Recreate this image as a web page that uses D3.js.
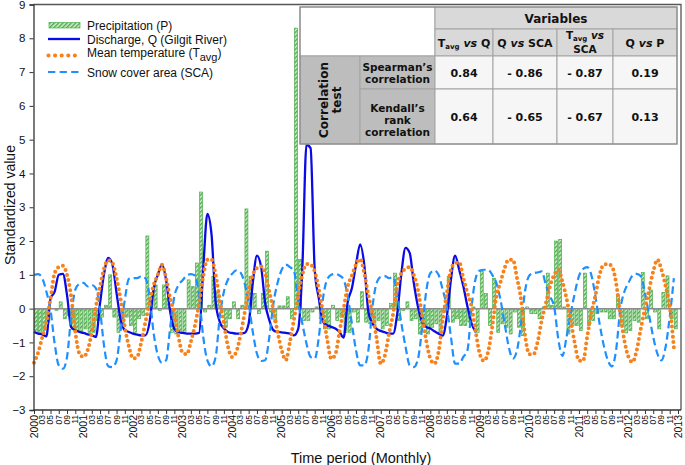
<!DOCTYPE html>
<html><head><meta charset="utf-8">
<script src="https://cdn.jsdelivr.net/npm/d3@7"></script>
<style>body{margin:0;background:#fff}svg{display:block}</style>
</head><body><svg id="c" width="685" height="465"></svg>
<script>
// ---- data (monthly, Jan 2000 .. Dec 2012) ----
const precip = [
 -0.7,-0.7,-0.65,-0.4,0.0,-0.05,0.2,-0.3,-0.2,-0.6,-0.65,-0.7,
 -0.6,-0.7,-0.7,-0.35,-0.25,0.1,1.0,-0.25,-0.7,-0.45,-0.25,-0.5,
 -0.7,-0.3,-0.2,2.15,0.35,0.7,-0.05,0.7,0.3,-0.7,-0.75,-0.7,
 -0.7,0.85,0.65,1.35,3.45,-0.1,0.1,0.95,0.5,-0.05,-0.55,-0.3,
 0.2,-0.3,0.1,2.95,0.95,0.45,-0.15,0.45,1.7,-0.1,-0.4,0.08,
 0.08,0.35,-0.3,8.3,1.45,-0.35,-0.35,-0.1,0.05,-0.3,-0.6,-0.6,
 0.1,-0.35,-0.25,-0.7,-0.7,-0.1,-0.4,0.5,-0.4,-0.45,-0.5,-0.35,
 -0.6,-0.5,0.15,1.05,-0.35,-0.05,0.2,-0.35,-0.3,-0.75,-0.55,-0.75,
 -0.55,-0.45,-0.7,-0.1,0.95,-0.4,-0.3,-0.5,-0.5,-0.4,0.05,-0.7,
 1.1,0.45,-0.5,0.9,-0.7,-0.45,-0.55,-0.75,-0.1,-0.55,-0.8,0.05,
 -0.15,-0.15,-0.3,0.05,1.05,0.1,2.0,2.05,0.05,-0.75,-0.5,-0.5,
 -0.65,1.05,-0.5,-0.35,-0.15,-0.1,-0.1,-0.3,-0.3,0.4,-0.5,-0.72,
 -0.65,-0.35,-0.4,1.07,-0.3,0.55,-0.1,-0.6,0.48,0.97,-0.3,-0.6
];
const discharge = [
 -0.69,-0.74,-0.76,-0.82,0.3,0.5,1.0,1.03,0.4,-0.55,-0.64,-0.69,
 -0.72,-0.76,-0.79,-0.84,0.16,1.05,1.5,1.3,0.46,-0.34,-0.64,-0.69,
 -0.74,-0.77,-0.79,-0.79,-0.4,0.6,1.0,1.3,0.85,-0.1,-0.6,-0.7,
 -0.72,-0.74,-0.74,-0.74,-0.72,1.2,2.8,2.2,0.2,-0.39,-0.59,-0.69,
 -0.72,-0.74,-0.74,-0.72,-0.44,0.76,1.57,1.25,0.16,-0.34,-0.64,-0.69,
 -0.7,-0.72,-0.74,-0.79,-0.6,1.2,4.85,4.75,1.15,0.3,-0.39,-0.49,
 -0.54,-0.59,-0.69,-0.86,0.2,0.6,1.3,1.9,1.3,-0.1,-0.44,-0.6,
 -0.66,-0.7,-0.74,-0.74,-0.14,1.05,1.8,1.65,0.76,0.06,-0.39,-0.54,
 -0.59,-0.67,-0.74,-0.8,-0.24,0.86,1.57,1.15,0.66,0.06,-0.44,-0.7
];
const tavg = [
 -1.6,-1.3,-0.85,-0.4,0.3,1.05,1.23,1.27,1.0,0.36,-0.69,-1.33,
 -1.43,-1.23,-0.69,0.06,0.66,1.2,1.43,1.35,0.9,0.26,-0.54,-1.13,
 -1.48,-1.43,-0.98,-0.39,0.2,0.7,1.0,1.3,0.9,0.3,-0.14,-0.84,
 -1.31,-1.35,-0.98,-0.49,0.16,0.96,1.45,1.45,1.0,0.26,-0.44,-1.13,
 -1.43,-1.28,-0.79,-0.14,0.56,1.0,1.2,1.25,1.05,0.5,-0.04,-0.69,
 -1.23,-1.53,-0.98,-0.3,0.4,1.0,1.32,1.3,1.1,0.56,-0.14,-0.89,
 -1.48,-1.35,-0.69,0.0,0.66,0.98,1.3,1.47,1.05,0.4,-0.14,-0.89,
 -1.63,-1.38,-0.74,-0.14,0.7,1.05,1.18,1.23,1.0,0.56,-0.19,-0.94,
 -1.48,-1.63,-1.28,-0.34,0.46,1.15,1.35,1.37,0.9,0.46,0.06,-0.69,
 -1.35,-1.55,-1.28,-0.54,0.36,0.78,1.2,1.45,1.45,0.9,0.26,-0.84,
 -1.35,-1.35,-0.98,-0.34,0.16,0.66,1.0,1.15,0.8,0.3,-0.34,-1.03,
 -1.53,-1.55,-0.84,-0.14,0.4,1.0,1.3,1.32,1.25,0.76,-0.14,-0.94,
 -1.43,-1.58,-1.23,-0.59,0.0,0.56,1.1,1.45,1.15,0.66,0.06,-1.15
];
const sca = [
 1.0,1.02,0.9,0.5,-0.04,-1.03,-1.68,-1.78,-1.43,-0.24,0.56,0.73,
 0.76,0.66,0.7,0.6,-0.04,-1.13,-1.71,-1.73,-1.53,-0.64,0.26,0.88,
 0.9,0.9,0.96,0.9,0.36,-0.74,-1.38,-1.6,-1.53,-0.54,0.36,0.7,
 0.84,0.98,1.02,0.98,0.36,-0.84,-1.53,-1.71,-1.43,-0.24,0.5,0.86,
 1.03,1.13,1.07,0.76,0.16,-0.69,-1.33,-1.55,-1.53,-0.84,0.16,0.76,
 1.15,1.3,1.23,1.1,0.2,-0.44,-1.03,-1.43,-1.48,-0.84,0.3,0.86,
 1.0,1.03,0.98,0.86,0.36,-0.44,-1.23,-1.68,-1.68,-1.23,0.06,0.76,
 0.94,0.96,0.9,0.94,0.36,-0.44,-1.13,-1.68,-1.73,-1.5,-0.6,0.5,
 1.05,1.13,1.0,0.56,0.06,-0.84,-1.63,-1.63,-1.43,-1.23,0.06,0.9,
 1.13,1.15,1.15,1.0,0.76,0.26,-0.44,-1.13,-1.48,-1.23,-0.44,0.56,
 0.98,1.05,1.07,1.1,0.7,0.36,0.06,-0.9,-1.4,-0.84,-0.14,0.46,
 0.96,1.17,1.23,1.0,0.36,-0.44,-1.08,-1.53,-1.71,-1.23,-0.04,0.5,
 0.76,0.98,1.03,0.96,0.46,-0.19,-0.84,-1.33,-1.53,-1.13,-0.24,0.9
];
const yTickValues = [-3,-2,-1,0,1,2,3,4,5,6,7,8,9];
const yearLabels = ["2000","2001","2002","2003","2004","2005","2006","2007","2008","2009","2010","2011","2012","2013"];
const monthTickLabels = ["03","05","07","09","11"];
const legendLabels = ["Precipitation (P)","Discharge, Q (Gilgit River)","Mean temperature (T","Snow cover area (SCA)"];
const spearman = ["0.84","- 0.86","- 0.87","0.19"];
const kendall = ["0.64","- 0.65","- 0.67","0.13"];

// ---- chart ----
const svg = d3.select("#c");
const x = d3.scaleLinear().domain([0,156]).range([34,678]);
const y = d3.scaleLinear().domain([-3,9]).range([410,4.5]);
const step = x(1)-x(0);
const C_Q="#0a0ae6", C_SCA="#1e8fff", C_T="#f7821b";
const sans="Liberation Sans, Arial, sans-serif";

const defs = svg.append("defs");
const pat = defs.append("pattern").attr("id","hatch").attr("patternUnits","userSpaceOnUse")
  .attr("width",3).attr("height",3).attr("patternTransform","rotate(45)");
pat.append("rect").attr("width",3).attr("height",3).attr("fill","#d8efd2");
pat.append("line").attr("x1",0.75).attr("y1",0).attr("x2",0.75).attr("y2",3)
  .attr("stroke","#45a845").attr("stroke-width",1.4);

// bars
svg.append("g").selectAll("rect").data(precip).join("rect")
  .attr("x",(d,i)=>x(i)+step*0.1).attr("width",step*0.72)
  .attr("y",d=>y(Math.max(0,d))).attr("height",d=>Math.abs(y(d)-y(0)))
  .attr("fill","url(#hatch)").attr("stroke","#4cae4c").attr("stroke-width",0.7);

// zero line
svg.append("line").attr("x1",34).attr("x2",681).attr("y1",y(0)).attr("y2",y(0))
  .attr("stroke","#8c8c8c").attr("stroke-width",1.5);

const line = d3.line().x((d,i)=>x(i)).y(d=>y(d)).curve(d3.curveMonotoneX);
svg.append("path").datum(discharge).attr("d",line).attr("fill","none")
  .attr("stroke",C_Q).attr("stroke-width",2.3);
svg.append("path").datum(sca).attr("d",line).attr("fill","none")
  .attr("stroke",C_SCA).attr("stroke-width",2.2).attr("stroke-dasharray","7.5 4");
svg.append("path").datum(tavg).attr("d",line).attr("fill","none")
  .attr("stroke",C_T).attr("stroke-width",4).attr("stroke-linecap","round")
  .attr("stroke-dasharray","0 5.2");

// frame
svg.append("path").attr("d",`M33.5,${y(9)}H681V410`).attr("fill","none")
  .attr("stroke","#555").attr("stroke-width",1.3);

// y axis
const ya = svg.append("g").attr("transform","translate(33.5,0)")
  .call(d3.axisLeft(y).tickValues(yTickValues).tickSize(4).tickPadding(4).tickFormat(d3.format("d")));
ya.select(".domain").attr("stroke","#333").attr("stroke-width",1.3);
ya.selectAll(".tick line").attr("stroke","#333");
ya.selectAll("text").attr("font-family",sans).attr("font-size",11.5).attr("fill","#111");

// x axis
const tickMonths = d3.range(0,157,2);
const xa = svg.append("g").attr("transform","translate(0,410)")
  .call(d3.axisBottom(x).tickValues(tickMonths).tickSize(4).tickFormat(""));
xa.select(".domain").attr("stroke","#333").attr("stroke-width",1.3).attr("d","M33.5,0H681");
xa.selectAll(".tick line").attr("stroke","#333");
svg.append("g").selectAll("text").data(tickMonths).join("text")
  .attr("transform",m=>`translate(${x(m)},415) rotate(-90)`)
  .attr("text-anchor","end").attr("dy","0.35em")
  .attr("font-family",sans)
  .attr("font-size",m=>m%12===0?10.5:8.5)
  .attr("fill","#111")
  .text(m=>m%12===0?yearLabels[m/12]:monthTickLabels[(m%12)/2-1]);

// axis titles
svg.append("text").attr("transform","translate(15,205) rotate(-90)").attr("text-anchor","middle")
  .attr("font-family",sans).attr("font-size",14).attr("fill","#111").text("Standardized value");
svg.append("text").attr("x",361).attr("y",463).attr("text-anchor","middle")
  .attr("font-family",sans).attr("font-size",14.5).attr("fill","#111").text("Time period (Monthly)");

// legend
const lg = svg.append("g");
lg.append("rect").attr("x",49).attr("y",22.5).attr("width",31).attr("height",5.5)
  .attr("fill","url(#hatch)").attr("stroke","#4cae4c").attr("stroke-width",0.7);
lg.append("line").attr("x1",48).attr("x2",80).attr("y1",39).attr("y2",39).attr("stroke",C_Q).attr("stroke-width",2.3);
lg.append("line").attr("x1",48.5).attr("x2",76).attr("y1",55.5).attr("y2",55.5).attr("stroke",C_T)
  .attr("stroke-width",4.2).attr("stroke-linecap","round").attr("stroke-dasharray","0 6.6");
lg.append("line").attr("x1",48).attr("x2",80).attr("y1",72).attr("y2",72).attr("stroke",C_SCA)
  .attr("stroke-width",2.2).attr("stroke-dasharray","7.3 4.3");
const ly=[29.5,43.5,57,76.5];
legendLabels.forEach((t,i)=>{
  const tx = lg.append("text").attr("x",87).attr("y",ly[i]).attr("font-family",sans)
    .attr("font-size",12).attr("fill","#111");
  tx.append("tspan").text(t);
  if(i===2){
    tx.append("tspan").attr("font-size",11).attr("dy",4).text("avg");
    tx.append("tspan").attr("dy",-4).text(")");
  }
});

// ---- table ----
const tf="DejaVu Sans, Verdana, sans-serif";
const colX=[300,360,435,493,557,613,677];
const rowY=[7,29,56,89,144];
const tg = svg.append("g");
function cell(x0,y0,x1,y1,fill){
  tg.append("rect").attr("x",x0).attr("y",y0).attr("width",x1-x0).attr("height",y1-y0)
   .attr("fill",fill).attr("stroke","#a3a3a3").attr("stroke-width",1);
}
cell(colX[0],rowY[0],colX[2],rowY[2],"#ffffff");
cell(colX[2],rowY[0],colX[6],rowY[1],"#d9d9d9");
for(let c=2;c<6;c++) cell(colX[c],rowY[1],colX[c+1],rowY[2],"#d9d9d9");
cell(colX[0],rowY[2],colX[1],rowY[4],"#bdbdbd");
cell(colX[1],rowY[2],colX[2],rowY[3],"#bdbdbd");
cell(colX[1],rowY[3],colX[2],rowY[4],"#bdbdbd");
for(let c=2;c<6;c++){ cell(colX[c],rowY[2],colX[c+1],rowY[3],"#f6f6f6"); cell(colX[c],rowY[3],colX[c+1],rowY[4],"#f6f6f6"); }
tg.append("rect").attr("x",colX[0]).attr("y",rowY[0]).attr("width",colX[6]-colX[0]).attr("height",rowY[4]-rowY[0])
  .attr("fill","none").attr("stroke","#8a8a8a").attr("stroke-width",1.2);

function ttext(cx,cy,size){
  return tg.append("text").attr("x",cx).attr("y",cy).attr("text-anchor","middle")
    .attr("font-family",tf).attr("font-weight","bold").attr("font-size",size).attr("fill","#111");
}
ttext((colX[2]+colX[6])/2,22.5,12).text("Variables");
const mid=c=>(colX[c]+colX[c+1])/2;
function vsHeader(t, a, b, sub){
  t.append("tspan").text(a);
  if(sub){ t.append("tspan").attr("font-size",7).attr("dy",2).text("avg"); t.append("tspan").attr("dy",-2).text(" "); }
  else t.append("tspan").text(" ");
  t.append("tspan").attr("font-style","italic").text("vs");
  if(b) t.append("tspan").text(" "+b);
}
vsHeader(ttext(mid(2),47,11),"T","Q",true);
vsHeader(ttext(mid(3),47,11),"Q","SCA",false);
vsHeader(ttext(mid(4),38.5,10.5),"T",null,true);
ttext(mid(4),52.5,10.5).text("SCA");
vsHeader(ttext(mid(5),47,11),"Q","P",false);

// row headers
ttext(mid(1),71,10.5).text("Spearman\u2019s");
ttext(mid(1),83,10.5).text("correlation");
ttext(mid(1),111.5,10.5).text("Kendall\u2019s");
ttext(mid(1),123.5,10.5).text("rank");
ttext(mid(1),135.5,10.5).text("correlation");
const ct = tg.append("text").attr("transform",`translate(${mid(0)},100) rotate(-90)`).attr("text-anchor","middle")
  .attr("font-family",tf).attr("font-weight","bold").attr("font-size",12).attr("fill","#111");
ct.append("tspan").attr("x",0).attr("y",-2).text("Correlation");
ct.append("tspan").attr("x",0).attr("y",11).text("test");

spearman.forEach((v,i)=>ttext(mid(i+2),76.5,11).text(v));
kendall.forEach((v,i)=>ttext(mid(i+2),121,11).text(v));
</script></body></html>
